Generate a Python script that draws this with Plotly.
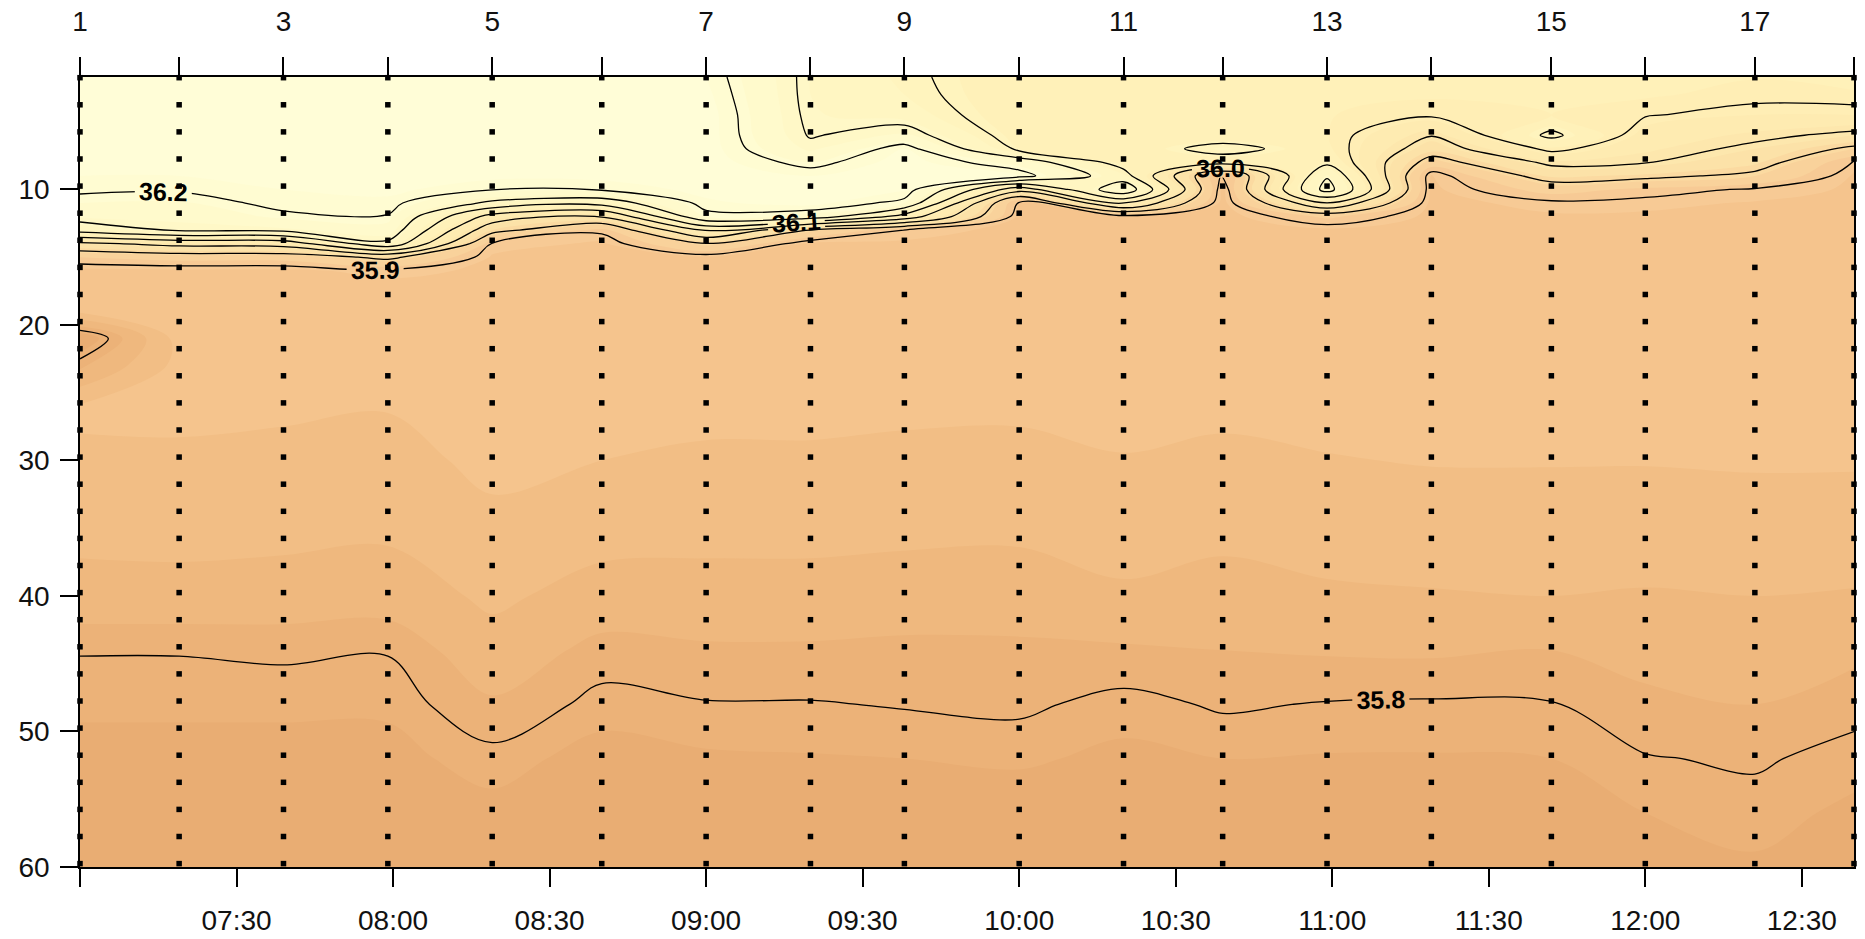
import plotly.graph_objects as go

DATE = "2000-01-01"

# Station times (top axis) and their labels
STATION_TIMES = ["07:00", "07:19", "07:39", "07:59", "08:19", "08:40", "09:00", "09:20", "09:38",
                 "10:00", "10:20", "10:39", "10:59", "11:19", "11:42", "12:00", "12:21", "12:40"]
STATION_LABELS = ["1", "", "3", "", "5", "", "7", "", "9", "", "11", "", "13", "", "15", "", "17", ""]

# Bottom time axis
TIME_TICKS = ["07:00", "07:30", "08:00", "08:30", "09:00", "09:30", "10:00", "10:30",
              "11:00", "11:30", "12:00", "12:30"]
TIME_LABELS = ["", "07:30", "08:00", "08:30", "09:00", "09:30", "10:00", "10:30",
               "11:00", "11:30", "12:00", "12:30"]
DEPTH_TICKS = [10, 20, 30, 40, 50, 60]

# Sample depths (dots) at every station
SAMPLE_DEPTHS = [1.75, 3.75, 5.75, 7.75, 9.75, 11.75, 13.75, 15.75, 17.75, 19.75,
                 21.75, 23.75, 25.75, 27.75, 29.75, 31.75, 33.75, 35.75, 37.75, 39.75,
                 41.75, 43.75, 45.75, 47.75, 49.75, 51.75, 53.75, 55.75, 57.75, 59.75]

# Depth levels of the salinity profiles
GRID_DEPTHS = [1.7, 3, 4.5, 6, 7, 8, 9, 10, 11, 12, 13, 14, 15, 16, 17, 19, 21, 23, 26,
               30, 35, 40, 44, 48, 52, 56, 60]

# Salinity profiles per station (values at GRID_DEPTHS)
st01 = [36.230, 36.230, 36.230, 36.230, 36.230, 36.225, 36.215, 36.205, 36.190, 36.170, 36.120, 35.990, 35.915, 35.885, 35.882, 35.870, 35.770, 35.810, 35.868, 35.862, 35.848, 35.830, 35.801, 35.792, 35.786, 35.778, 35.770]
st02 = [36.230, 36.230, 36.230, 36.230, 36.230, 36.225, 36.215, 36.203, 36.188, 36.172, 36.155, 36.015, 35.925, 35.886, 35.884, 35.878, 35.875, 35.873, 35.869, 35.862, 35.850, 35.830, 35.801, 35.792, 35.786, 35.778, 35.770]
st03 = [36.230, 36.230, 36.230, 36.230, 36.230, 36.230, 36.225, 36.215, 36.207, 36.195, 36.160, 36.020, 35.925, 35.886, 35.883, 35.878, 35.875, 35.872, 35.868, 35.860, 35.848, 35.828, 35.803, 35.792, 35.786, 35.778, 35.770]
st04 = [36.230, 36.230, 36.230, 36.230, 36.230, 36.230, 36.230, 36.220, 36.210, 36.198, 36.180, 36.140, 35.960, 35.895, 35.886, 35.878, 35.874, 35.871, 35.866, 35.858, 35.845, 35.826, 35.801, 35.792, 35.786, 35.778, 35.770]
st05 = [36.230, 36.230, 36.230, 36.230, 36.230, 36.230, 36.220, 36.202, 36.140, 36.030, 35.965, 35.898, 35.888, 35.887, 35.885, 35.882, 35.880, 35.878, 35.875, 35.870, 35.860, 35.845, 35.830, 35.812, 35.795, 35.786, 35.778]
st06 = [36.230, 36.230, 36.230, 36.230, 36.230, 36.230, 36.220, 36.205, 36.120, 35.995, 35.905, 35.887, 35.886, 35.886, 35.885, 35.882, 35.879, 35.876, 35.872, 35.865, 35.850, 35.830, 35.808, 35.795, 35.785, 35.776, 35.768]
st07 = [36.215, 36.220, 36.225, 36.225, 36.225, 36.225, 36.225, 36.220, 36.212, 36.190, 36.060, 35.948, 35.888, 35.886, 35.884, 35.880, 35.877, 35.874, 35.870, 35.862, 35.848, 35.830, 35.812, 35.799, 35.788, 35.779, 35.771]
st08 = [36.140, 36.140, 36.142, 36.147, 36.160, 36.190, 36.215, 36.225, 36.222, 36.180, 35.948, 35.885, 35.886, 35.885, 35.884, 35.880, 35.877, 35.874, 35.870, 35.862, 35.848, 35.830, 35.812, 35.799, 35.789, 35.780, 35.772]
st09 = [36.110, 36.115, 36.130, 36.170, 36.215, 36.225, 36.225, 36.220, 36.190, 36.080, 35.899, 35.887, 35.886, 35.885, 35.884, 35.880, 35.877, 35.874, 35.869, 35.860, 35.846, 35.828, 35.810, 35.801, 35.790, 35.781, 35.773]
st10 = [36.068, 36.068, 36.070, 36.078, 36.090, 36.180, 36.215, 36.020, 35.886, 35.885, 35.884, 35.883, 35.882, 35.881, 35.880, 35.878, 35.875, 35.872, 35.868, 35.860, 35.845, 35.827, 35.811, 35.803, 35.792, 35.782, 35.774]
st11 = [36.066, 36.066, 36.066, 36.066, 36.068, 36.080, 36.120, 36.190, 36.060, 35.888, 35.886, 35.884, 35.883, 35.882, 35.881, 35.879, 35.877, 35.875, 35.871, 35.864, 35.852, 35.836, 35.812, 35.795, 35.787, 35.779, 35.771]
st12 = [36.066, 36.066, 36.066, 36.070, 36.120, 36.070, 35.885, 35.884, 35.883, 35.882, 35.882, 35.881, 35.881, 35.880, 35.880, 35.878, 35.876, 35.873, 35.869, 35.861, 35.847, 35.830, 35.815, 35.802, 35.790, 35.782, 35.774]
st13 = [36.066, 36.066, 36.066, 36.066, 36.070, 36.090, 36.145, 36.170, 36.048, 35.920, 35.886, 35.885, 35.884, 35.883, 35.882, 35.880, 35.878, 35.875, 35.871, 35.864, 35.852, 35.836, 35.817, 35.799, 35.789, 35.780, 35.772]
st14 = [36.068, 36.068, 36.055, 36.002, 35.975, 35.930, 35.887, 35.886, 35.885, 35.885, 35.884, 35.884, 35.883, 35.883, 35.882, 35.880, 35.878, 35.876, 35.872, 35.866, 35.855, 35.838, 35.818, 35.798, 35.789, 35.781, 35.772]
st15 = [36.068, 36.068, 36.065, 36.110, 36.060, 36.010, 35.970, 35.925, 35.895, 35.888, 35.887, 35.886, 35.885, 35.884, 35.883, 35.881, 35.879, 35.877, 35.873, 35.866, 35.856, 35.840, 35.815, 35.799, 35.790, 35.782, 35.774]
st16 = [36.068, 36.068, 36.052, 36.030, 36.020, 36.002, 35.960, 35.910, 35.893, 35.888, 35.887, 35.886, 35.885, 35.884, 35.883, 35.881, 35.879, 35.877, 35.873, 35.866, 35.854, 35.838, 35.823, 35.810, 35.799, 35.790, 35.780]
st17 = [36.066, 36.058, 36.040, 36.010, 35.990, 35.970, 35.940, 35.897, 35.889, 35.888, 35.888, 35.887, 35.886, 35.885, 35.884, 35.882, 35.880, 35.878, 35.874, 35.867, 35.856, 35.840, 35.826, 35.815, 35.802, 35.795, 35.788]
st18 = [36.080, 36.060, 36.040, 35.990, 35.940, 35.895, 35.888, 35.888, 35.887, 35.886, 35.886, 35.885, 35.885, 35.884, 35.884, 35.882, 35.880, 35.878, 35.874, 35.867, 35.855, 35.838, 35.820, 35.805, 35.795, 35.787, 35.780]

PROFILES = [st01, st02, st03, st04, st05, st06, st07, st08, st09,
            st10, st11, st12, st13, st14, st15, st16, st17, st18]

# Colour map (salinity -> colour)
Z_MIN, Z_MAX = 35.74, 36.24
SAL_STOPS = [35.74, 35.78, 35.82, 35.86, 35.89, 35.92, 35.96, 36.00, 36.05, 36.10, 36.15, 36.20, 36.24]
SAL_COLORS = ["rgb(231,170,112)", "rgb(236,178,120)", "rgb(241,187,130)", "rgb(245,196,141)",
              "rgb(248,203,151)", "rgb(250,213,157)", "rgb(252,225,167)", "rgb(254,233,175)",
              "rgb(255,239,182)", "rgb(255,244,191)", "rgb(255,248,199)", "rgb(255,252,210)",
              "rgb(255,254,218)"]
colorscale = [[(s - Z_MIN) / (Z_MAX - Z_MIN), c] for s, c in zip(SAL_STOPS, SAL_COLORS)]

x_st = [f"{DATE} {t}" for t in STATION_TIMES]
z = [[p[i] for p in PROFILES] for i in range(len(GRID_DEPTHS))]

FONT = "Liberation Sans, Arial, sans-serif"

fig = go.Figure()

# filled field
fig.add_trace(go.Contour(
    x=x_st, y=GRID_DEPTHS, z=z,
    colorscale=colorscale, zmin=Z_MIN, zmax=Z_MAX, zauto=False,
    autocontour=False,
    contours=dict(start=35.765, end=36.265, size=0.025, coloring="fill", showlines=False),
    line=dict(width=0), showscale=False, hoverinfo="skip"))

# unlabeled intermediate isolines
fig.add_trace(go.Contour(
    x=x_st, y=GRID_DEPTHS, z=z, autocontour=False,
    contours=dict(start=35.95, end=36.15, size=0.1, coloring="none"),
    line=dict(color="black", width=1.3), showscale=False, hoverinfo="skip"))

# labeled isolines
fig.add_trace(go.Contour(
    x=x_st, y=GRID_DEPTHS, z=z, autocontour=False,
    contours=dict(start=35.8, end=36.2, size=0.1, coloring="none", showlabels=True,
                  labelformat=".1f",
                  labelfont=dict(family=FONT, size=25, color="black", weight="bold")),
    line=dict(color="black", width=1.3), showscale=False, hoverinfo="skip"))

# sample dots
dot_x, dot_y = [], []
for t in x_st:
    for d in SAMPLE_DEPTHS:
        dot_x.append(t)
        dot_y.append(d)
fig.add_trace(go.Scatter(
    x=dot_x, y=dot_y, mode="markers",
    marker=dict(symbol="square", size=5.5, color="black"),
    cliponaxis=False, hoverinfo="skip", showlegend=False))

# invisible trace for the top axis
fig.add_trace(go.Scatter(x=[x_st[0], x_st[-1]], y=[30, 30], xaxis="x2", mode="markers",
                         marker=dict(opacity=0), hoverinfo="skip", showlegend=False))

x_range = [f"{DATE} 07:00", f"{DATE} 12:40"]
tickfont = dict(family=FONT, size=28, color="#111")

fig.update_layout(
    width=1865, height=939,
    margin=dict(l=80, r=11, t=77, b=72, autoexpand=False),
    paper_bgcolor="white", plot_bgcolor="white",
    showlegend=False,
    xaxis=dict(type="date", range=x_range, automargin=False,
               tickvals=[f"{DATE} {t}" for t in TIME_TICKS], ticktext=TIME_LABELS,
               ticks="outside", ticklen=18, tickwidth=1.5, tickcolor="black",
               showline=True, linecolor="black", linewidth=1.5,
               showgrid=False, zeroline=False, tickfont=tickfont,
               ticklabelstandoff=10),
    xaxis2=dict(type="date", range=x_range, overlaying="x", side="top", anchor="y",
                automargin=False,
                tickvals=x_st, ticktext=STATION_LABELS,
                ticks="outside", ticklen=18, tickwidth=1.5, tickcolor="black",
                showline=True, linecolor="black", linewidth=1.5,
                showgrid=False, zeroline=False, tickfont=tickfont,
                ticklabelstandoff=15),
    yaxis=dict(range=[60, 1.7], tickvals=DEPTH_TICKS, automargin=False,
               ticks="outside", ticklen=18, tickwidth=1.5, tickcolor="black",
               showline=True, linecolor="black", linewidth=1.5, mirror=True,
               showgrid=False, zeroline=False, tickfont=tickfont,
               ticklabelstandoff=5),
)

fig.write_html("out.html")
